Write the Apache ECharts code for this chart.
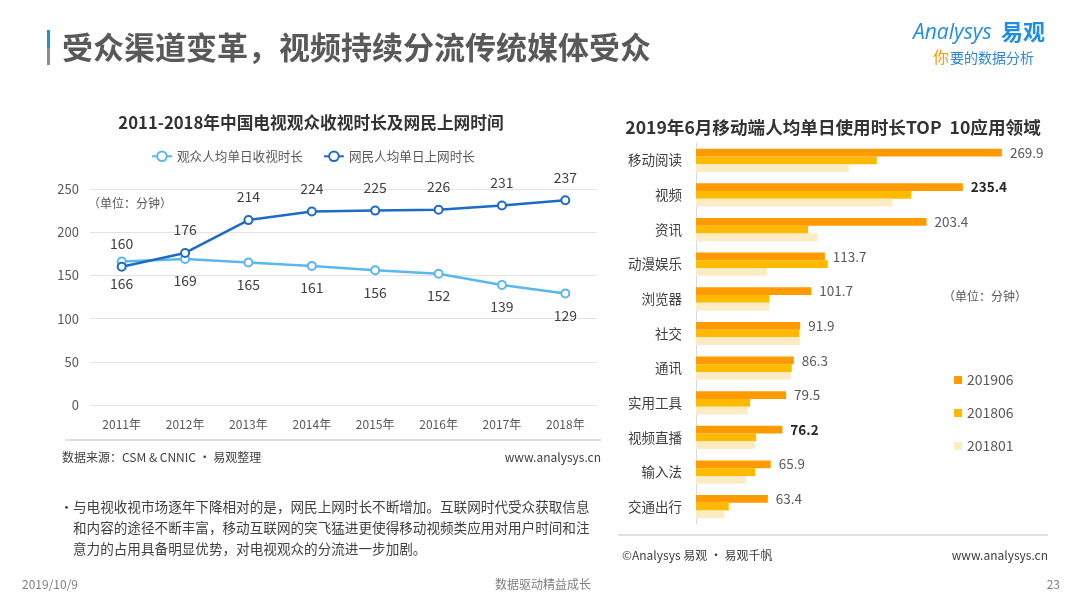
<!DOCTYPE html>
<html>
<head>
<meta charset="utf-8">
<script src="https://cdn.jsdelivr.net/npm/echarts@6/dist/echarts.min.js"></script>
<style>
html,body{margin:0;padding:0;background:#fff;}
#main{width:1080px;height:608px;}
</style>
</head>
<body>
<div id="main"></div>
<script>
// ---- Left chart data ----
const years = ['2011年','2012年','2013年','2014年','2015年','2016年','2017年','2018年'];
const tvName = '观众人均单日收视时长';
const netName = '网民人均单日上网时长';
const tvMinutes = [166, 169, 165, 161, 156, 152, 139, 129];
const netMinutes = [160, 176, 214, 224, 225, 226, 231, 237];

// ---- Right chart data ----
const appCategories = ['移动阅读','视频','资讯','动漫娱乐','浏览器','社交','通讯','实用工具','视频直播','输入法','交通出行'];
const periods = ['201906','201806','201801'];
const v201906 = [269.9, 235.4, 203.4, 113.7, 101.7, 91.9, 86.3, 79.5, 76.2, 65.9, 63.4];
const v201806 = [159.5, 189.8, 98.9, 116.3, 64.7, 91.0, 84.5, 47.7, 53.0, 52.1, 28.9];
const v201801 = [134.8, 173.3, 107.1, 62.4, 64.5, 91.8, 83.6, 45.3, 52.4, 44.1, 25.0];
const boldLabels = ['视频','视频直播'];

const FONT = '"Noto Sans CJK SC","Noto Sans",sans-serif';
const chart = echarts.init(document.getElementById('main'));

function txt(x, y, text, opt) {
  return {
    type: 'text', x: x, y: y, silent: true,
    style: Object.assign({
      text: text, fill: '#595959', fontSize: 12, fontFamily: FONT,
      align: 'left', verticalAlign: 'middle'
    }, opt || {})
  };
}

const graphics = [
  {type:'rect', shape:{x:47,y:30,width:3,height:18}, style:{fill:'#1E90E0'}},
  {type:'rect', shape:{x:47,y:48,width:3,height:17}, style:{fill:'#8C8C8C'}},
  txt(62, 47, '受众渠道变革，视频持续分流传统媒体受众', {fontSize:31, fontWeight:'bold', fill:'#595959'}),
  // logo
  txt(913, 33, 'Analysys', {fontSize:21, fontStyle:'italic', fill:'#1E8FE1', fontFamily:'"Open Sans",sans-serif'}),
  txt(1001, 32, '易观', {fontSize:22, fontWeight:'bold', fill:'#1E8FE1'}),
  txt(933, 57, '你', {fontSize:16, fill:'#F39C12'}),
  txt(950, 58, '要的数据分析', {fontSize:14, fill:'#2E86D4'}),
  // left chart
  txt(311, 123, '2011-2018年中国电视观众收视时长及网民上网时间', {fontSize:16.7, fontWeight:'bold', fill:'#333333', align:'center'}),
  txt(88, 203, '（单位：分钟）', {fontSize:12, fill:'#595959'}),
  {type:'line', shape:{x1:65,y1:440,x2:601,y2:440}, style:{stroke:'#BFBFBF', lineWidth:1}},
  txt(62, 457, '数据来源：CSM & CNNIC · 易观整理', {fontSize:12, fill:'#404040'}),
  txt(601, 457, 'www.analysys.cn', {fontSize:12, fill:'#404040', align:'right'}),
  txt(60, 507, '•', {fontSize:13, fill:'#404040'}),
  txt(73, 507, '与电视收视市场逐年下降相对的是，网民上网时长不断增加。互联网时代受众获取信息', {fontSize:13.6, fill:'#404040'}),
  txt(73, 528, '和内容的途径不断丰富，移动互联网的突飞猛进更使得移动视频类应用对用户时间和注', {fontSize:13.6, fill:'#404040'}),
  txt(73, 549, '意力的占用具备明显优势，对电视观众的分流进一步加剧。', {fontSize:13.6, fill:'#404040'}),
  // right chart
  txt(833, 127, '2019年6月移动端人均单日使用时长TOP  10应用领域', {fontSize:17.6, fontWeight:'bold', fill:'#333333', align:'center'}),
  txt(943, 296, '（单位：分钟）', {fontSize:12, fill:'#595959'}),
  {type:'line', shape:{x1:618,y1:535,x2:1048,y2:535}, style:{stroke:'#BFBFBF', lineWidth:1}},
  txt(622, 555, '©Analysys 易观 · 易观千帆', {fontSize:12, fill:'#404040'}),
  txt(1048, 555, 'www.analysys.cn', {fontSize:12, fill:'#404040', align:'right'}),
  // footer
  txt(22, 584, '2019/10/9', {fontSize:12, fill:'#7F7F7F'}),
  txt(543, 584, '数据驱动精益成长', {fontSize:12, fill:'#7F7F7F', align:'center'}),
  txt(1060, 584, '23', {fontSize:12, fill:'#7F7F7F', align:'right'})
];

const boldIdx = boldLabels.map(n => appCategories.indexOf(n));
const d201906 = v201906.map((v, i) => boldIdx.indexOf(i) >= 0
  ? {value: v, label: {fontWeight: 'bold', color: '#262626'}}
  : v);

chart.setOption({
  animation: false,
  textStyle: {fontFamily: FONT},
  graphic: graphics,
  legend: [
    {
      data: [tvName, netName],
      left: 146, top: 145,
      itemWidth: 20, itemHeight: 12, itemGap: 20,
      textStyle: {fontSize: 12.6, color: '#595959', fontFamily: FONT}
    },
    {
      data: periods,
      orient: 'vertical',
      left: 949, top: 368,
      itemWidth: 8, itemHeight: 8, itemGap: 19,
      icon: 'rect',
      textStyle: {fontSize: 14, color: '#595959', fontFamily: FONT}
    }
  ],
  grid: [
    {left: 90, top: 189, width: 507, height: 216},
    {left: 696, top: 143, width: 340, height: 381}
  ],
  xAxis: [
    {
      gridIndex: 0, type: 'category', data: years,
      axisLine: {show: false}, axisTick: {show: false},
      axisLabel: {fontSize: 12, color: '#595959', margin: 13}
    },
    {
      gridIndex: 1, type: 'value', min: 0, max: 300, show: false
    }
  ],
  yAxis: [
    {
      gridIndex: 0, type: 'value', min: 0, max: 250, interval: 50,
      axisLine: {show: false}, axisTick: {show: false},
      axisLabel: {fontSize: 13, color: '#595959', margin: 11},
      splitLine: {lineStyle: {color: '#E3E3E3'}}
    },
    {
      gridIndex: 1, type: 'category', data: appCategories, inverse: true,
      axisLine: {lineStyle: {color: '#D9D9D9'}}, axisTick: {show: false},
      axisLabel: {fontSize: 13.5, color: '#404040', margin: 14}
    }
  ],
  series: [
    {
      name: tvName, type: 'line', xAxisIndex: 0, yAxisIndex: 0, data: tvMinutes,
      symbol: 'emptyCircle', symbolSize: 8,
      lineStyle: {width: 2.5, color: '#5AB7EE'},
      itemStyle: {color: '#5AB7EE', borderWidth: 2},
      label: {show: true, position: 'bottom', distance: 10, fontSize: 14, color: '#404040'}
    },
    {
      name: netName, type: 'line', xAxisIndex: 0, yAxisIndex: 0, data: netMinutes,
      symbol: 'emptyCircle', symbolSize: 8,
      lineStyle: {width: 2.5, color: '#1E6BC4'},
      itemStyle: {color: '#1E6BC4', borderWidth: 2},
      label: {show: true, position: 'top', distance: 11, fontSize: 14, color: '#404040'}
    },
    {
      name: periods[0], type: 'bar', xAxisIndex: 1, yAxisIndex: 1, data: d201906,
      barGap: '0%', barCategoryGap: '33%',
      itemStyle: {color: '#FF9A00'},
      label: {show: true, position: 'right', distance: 8, fontSize: 13.5, color: '#595959'}
    },
    {
      name: periods[1], type: 'bar', xAxisIndex: 1, yAxisIndex: 1, data: v201806,
      barGap: '0%', barCategoryGap: '33%',
      itemStyle: {color: '#FFBA00'}
    },
    {
      name: periods[2], type: 'bar', xAxisIndex: 1, yAxisIndex: 1, data: v201801,
      barGap: '0%', barCategoryGap: '33%',
      itemStyle: {color: '#FDEBC4'}
    }
  ]
});
</script>
</body>
</html>
